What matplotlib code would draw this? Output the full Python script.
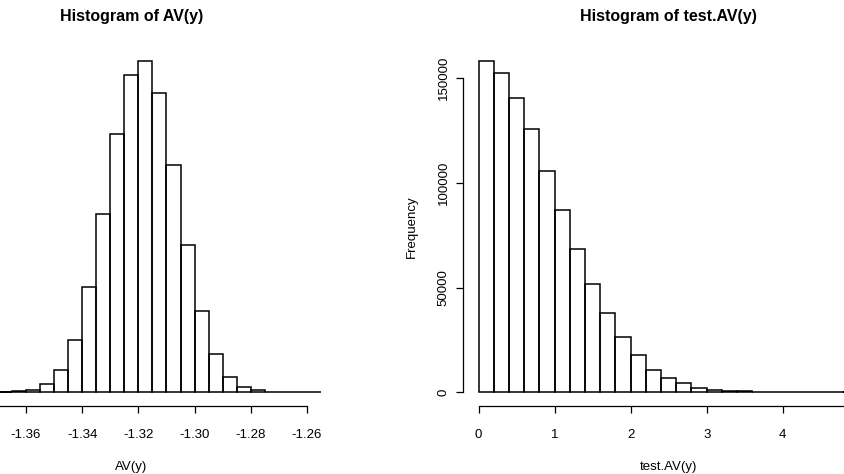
import numpy as np
import matplotlib
matplotlib.use("Agg")
import matplotlib.pyplot as plt

plt.rcParams['font.family'] = ['Liberation Sans', 'DejaVu Sans']

# left histogram: AV(y), bins of 0.005 starting at -1.39
av_breaks = np.round(np.arange(-1.39, -1.2549, 0.005), 3)
av_counts = [0, 0, 0, 0, 50, 480, 1300, 3800, 10700, 25200, 50500, 85200,
             123200, 151600, 158400, 142800, 108400, 70400, 38800, 18200,
             7200, 2400, 900, 200, 50, 10, 0]
av_ticks = [-1.36, -1.34, -1.32, -1.30, -1.28, -1.26]
av_ticklabels = ['-1.36', '-1.34', '-1.32', '-1.30', '-1.28', '-1.26']
av_axis_span = (-1.38, -1.26)

# right histogram: test.AV(y), bins of 0.2 from 0 to 5
test_breaks = np.round(np.arange(0, 5.01, 0.2), 1)
test_counts = [158400, 152400, 140450, 125650, 105900, 86950, 68630, 51600,
               37740, 26270, 17830, 10900, 6900, 4300, 2230, 1270, 800, 480,
               220, 100, 50, 20, 10, 5, 2]
test_ticks = [0, 1, 2, 3, 4]
test_ticklabels = ['0', '1', '2', '3', '4']
test_axis_span = (0, 5)
freq_ticks = [0, 50000, 100000, 150000]
freq_ticklabels = ['0', '50000', '100000', '150000']

fig = plt.figure(figsize=(8.45, 4.74), dpi=100)
ax1 = fig.add_axes([-0.0870, 0.1443, 0.4849, 0.7557])
ax2 = fig.add_axes([0.5485, 0.1443, 0.4857, 0.7557])


def r_hist(ax, breaks, counts, title, xlabel):
    ax.bar(breaks[:-1], counts, width=np.diff(breaks), align='edge',
           fill=False, edgecolor='black', linewidth=1.1)
    rng = breaks[-1] - breaks[0]
    ax.set_xlim(breaks[0] - 0.04 * rng, breaks[-1] + 0.04 * rng)
    top = max(counts)
    ax.set_ylim(-0.04 * top, 1.04 * top)
    for s in ['top', 'right']:
        ax.spines[s].set_visible(False)
    ax.set_title(title, fontsize=11.5, fontweight='bold', pad=19)
    ax.set_xlabel(xlabel, fontsize=9.5, labelpad=14.5)
    ax.tick_params(direction='out', length=5, width=0.9, labelsize=9.5)
    ax.tick_params(axis='x', pad=11.5)
    ax.tick_params(axis='y', pad=5)


r_hist(ax1, av_breaks, av_counts, 'Histogram of AV(y)', 'AV(y)')
ax1.set_xticks(av_ticks)
ax1.set_xticklabels(av_ticklabels)
ax1.spines['bottom'].set_bounds(*av_axis_span)
ax1.spines['left'].set_visible(False)
ax1.set_yticks([])

r_hist(ax2, test_breaks, test_counts, 'Histogram of test.AV(y)', 'test.AV(y)')
ax2.set_xticks(test_ticks)
ax2.set_xticklabels(test_ticklabels)
ax2.spines['bottom'].set_bounds(*test_axis_span)
ax2.set_yticks(freq_ticks)
ax2.set_yticklabels(freq_ticklabels, rotation=90, va='center')
ax2.spines['left'].set_bounds(freq_ticks[0], freq_ticks[-1])
ax2.set_ylabel('Frequency', fontsize=9.5, labelpad=14)

for ax in (ax1, ax2):
    for s in ['left', 'bottom']:
        ax.spines[s].set_linewidth(0.9)

fig.savefig('out.png', dpi=100)
